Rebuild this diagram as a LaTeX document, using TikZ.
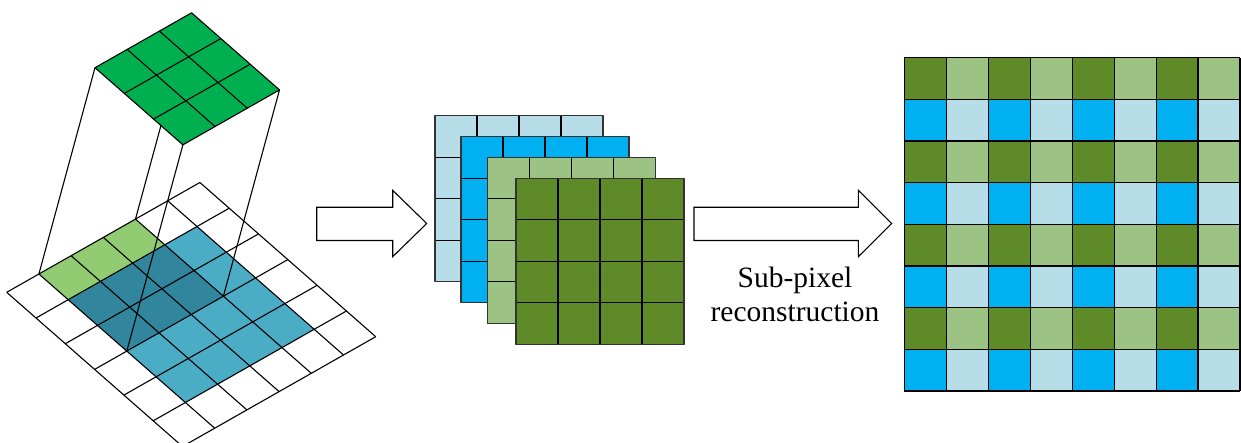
\documentclass[tikz,border=0pt]{standalone}
\usepackage{fontspec}
\setmainfont{Liberation Serif}

% palette
\definecolor{kgreen}{HTML}{00B050}
\definecolor{padgreen}{HTML}{92CC72}
\definecolor{inblue}{HTML}{4BACC6}
\definecolor{ovblue}{HTML}{31859C}
\definecolor{fmlblue}{HTML}{B7DEE8}
\definecolor{fmcyan}{HTML}{00B0F0}
\definecolor{fmlgreen}{HTML}{9DC384}
\definecolor{fmdgreen}{HTML}{5E8B27}

\begin{document}
\begin{tikzpicture}[x=1pt,y=-1pt,line join=round,
  gridline/.style={draw=black,line width=1.1pt},
  layerline/.style={draw=black!80,line width=1.1pt},
  blockarrow/.style={draw=black,fill=white,line width=1.1pt,line join=miter},
  caption/.style={font=\fontsize{29.5}{34}\selectfont,anchor=base,inner sep=0pt},
  oblique/.style={cm={32.2,18.3,29.3,-25.7,(6.7,292.3)},x=1pt,y=1pt}]
\useasboundingbox (0,0) rectangle (1241,443);
\clip (0,0) rectangle (1241,443);

% ---------- padded input map seen in oblique view ----------
\begin{scope}[oblique]
  \fill[inblue] (1,1) rectangle (5,5);
  \fill[padgreen] (1,0) rectangle (4,1);
  \fill[ovblue] (1,1) rectangle (4,3);
  \foreach \k in {0,...,6} {
    \draw[gridline] (\k,0) -- (\k,6);
    \draw[gridline] (0,\k) -- (6,\k);
  }
\end{scope}

% receptive field corners on the map and the kernel corners above them
\coordinate (f1) at (38.9,274.0);
\coordinate (f2) at (135.5,219.1);
\coordinate (f3) at (223.4,296.2);
\coordinate (f4) at (126.8,351.1);
\coordinate (k1) at (95.0,67.7);
\coordinate (k2) at (191.6,12.8);
\coordinate (k3) at (279.5,89.9);
\coordinate (k4) at (182.9,144.8);
\foreach \c in {1,...,4} {
  \draw[gridline] (k\c) -- (f\c);
}

% ---------- 3x3 kernel ----------
\begin{scope}[oblique]
  \begin{scope}[shift={(5.489,-4.118)}]
    \fill[kgreen] (1,0) rectangle (4,3);
    \foreach \k in {0,...,3} {
      \draw[gridline] (1+\k,0) -- (1+\k,3);
      \draw[gridline] (1,\k) -- (4,\k);
    }
  \end{scope}
\end{scope}

% ---------- block arrows ----------
\draw[blockarrow] (316.7,207.3) -- (392.7,207.3) -- (392.7,190.3) -- (426.7,223.5)
  -- (392.7,256.7) -- (392.7,240.5) -- (316.7,240.5) -- cycle;
\draw[blockarrow] (694,207.3) -- (858.3,207.3) -- (858.3,190.3) -- (891.7,223.5)
  -- (858.3,256.7) -- (858.3,240.5) -- (694,240.5) -- cycle;

% ---------- stack of feature maps ----------
\foreach \px/\py/\col in {435/115.7/fmlblue, 461/136.7/fmcyan, 487.3/157.3/fmlgreen, 516/178.3/fmdgreen} {
  \begin{scope}[shift={(\px,\py)}]
    \fill[\col] (0,0) rectangle (168,166);
    \foreach \k in {1,2,3} {
      \draw[gridline] (42*\k,0) -- (42*\k,166);
      \draw[gridline] (0,41.5*\k) -- (168,41.5*\k);
    }
    \draw[layerline] (0,0) rectangle (168,166);
  \end{scope}
}

% ---------- rearranged high-resolution map ----------
\begin{scope}[shift={(904.3,57.7)}]
  \foreach \r in {0,...,7} {
    \foreach \c in {0,...,7} {
      \pgfmathparse{int(mod(\r,2)*2+mod(\c,2))}
      \ifcase\pgfmathresult
        \def\cellcol{fmdgreen}\or\def\cellcol{fmlgreen}\or
        \def\cellcol{fmcyan}\or\def\cellcol{fmlblue}\fi
      \fill[\cellcol] (41.96*\c,41.66*\r) rectangle (41.96*\c+41.96,41.66*\r+41.66);
    }
  }
  \foreach \k in {0,...,8} {
    \draw[gridline] (41.96*\k,0) -- (41.96*\k,333.3);
    \draw[gridline] (0,41.66*\k) -- (335.7,41.66*\k);
  }
\end{scope}

% ---------- caption under the second arrow ----------
\node[caption] (sub) at (795,287.3) {Sub-pixel};
\node[caption] (rec) at (795,321.7) {reconstruction};
\end{tikzpicture}
\end{document}
